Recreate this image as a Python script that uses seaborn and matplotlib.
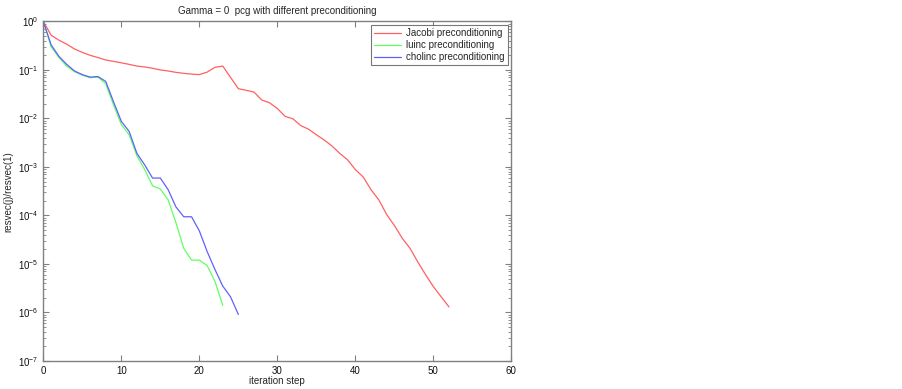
import numpy as np
import pandas as pd
import matplotlib
matplotlib.use("Agg")
import matplotlib.pyplot as plt
import matplotlib.ticker as mticker
import seaborn as sns

# residual histories
jacobi = [1.0, 0.52, 0.41, 0.34, 0.27, 0.23, 0.20, 0.18, 0.16, 0.15,
          0.14, 0.13, 0.12, 0.115, 0.108, 0.10, 0.095, 0.089, 0.085, 0.082,
          0.080, 0.09, 0.113, 0.12, 0.07, 0.041, 0.038, 0.035, 0.024, 0.021,
          0.016, 0.011, 0.0098, 0.0071, 0.006, 0.0046, 0.0036, 0.0027, 0.0019, 0.0014,
          8.8e-4, 6.2e-4, 3.4e-4, 2.1e-4, 1.05e-4, 6.2e-5, 3.4e-5, 2.1e-5, 1.1e-5, 6e-6,
          3.4e-6, 2.1e-6, 1.3e-6]
luinc = [1.0, 0.30, 0.18, 0.12, 0.092, 0.078, 0.069, 0.071, 0.052, 0.019,
         0.0075, 0.0046, 0.0017, 8.8e-4, 4.1e-4, 3.5e-4, 2.1e-4, 7.1e-5, 2.1e-5, 1.2e-5,
         1.2e-5, 9.3e-6, 4.4e-6, 1.4e-6]
cholinc = [1.0, 0.33, 0.19, 0.13, 0.095, 0.08, 0.071, 0.073, 0.058, 0.022,
           0.0087, 0.0054, 0.0019, 0.0011, 5.9e-4, 5.9e-4, 3.4e-4, 1.5e-4, 9.4e-5, 9.4e-5,
           4.8e-5, 1.8e-5, 7.7e-6, 3.5e-6, 2.1e-6, 9.1e-7]
names = ["Jacobi preconditioning", "luinc preconditioning", "cholinc preconditioning"]
colors = ["#ff6060", "#60ff60", "#6060ff"]

frames = []
for name, vals in zip(names, [jacobi, luinc, cholinc]):
    frames.append(pd.DataFrame({"step": np.arange(len(vals)), "res": vals, "method": name}))
df = pd.concat(frames, ignore_index=True)

sns.set_style("white")
plt.rcParams["font.family"] = ["Liberation Sans", "DejaVu Sans"]
plt.rcParams["xtick.direction"] = "in"
plt.rcParams["ytick.direction"] = "in"

fig = plt.figure(figsize=(9.02, 3.89), dpi=100)
ax = fig.add_axes([0.048, 0.072, 0.519, 0.873])

sns.lineplot(data=df, x="step", y="res", hue="method", palette=dict(zip(names, colors)),
             linewidth=0.9, ax=ax)
ax.set_yscale("log")
ax.set_xlim(0, 60)
ax.set_ylim(1e-7, 1)
ax.set_xticks(range(0, 61, 10))
ax.yaxis.set_major_locator(mticker.LogLocator(base=10, numticks=20))
ax.yaxis.set_minor_locator(mticker.LogLocator(base=10, subs=np.arange(2, 10), numticks=100))
ax.yaxis.set_minor_formatter(mticker.NullFormatter())

ax.tick_params(which="both", top=True, right=True, bottom=True, left=True,
               labelsize=7, labelcolor="#111111")
ax.tick_params(which="major", length=4, width=0.8, color="#808080")
ax.tick_params(which="minor", length=2, width=0.6, color="#808080")
ax.tick_params(axis="x", which="minor", bottom=False, top=False)
for s in ax.spines.values():
    s.set_color("#808080")
    s.set_linewidth(1.0)

ax.set_title("Gamma = 0  pcg with different preconditioning", fontsize=7, pad=5)
ax.set_xlabel("iteration step", fontsize=7, labelpad=0)
ax.set_ylabel("resvec(j)/resvec(1)", fontsize=7, labelpad=3)

leg = ax.legend(loc="upper right", fontsize=7, frameon=True, fancybox=False,
                borderaxespad=0.4, handlelength=2.8, borderpad=0.3, labelspacing=0.2,
                handletextpad=0.5)
leg.get_frame().set_edgecolor("#555555")
leg.get_frame().set_linewidth(0.8)

fig.savefig("out.png", dpi=100)
